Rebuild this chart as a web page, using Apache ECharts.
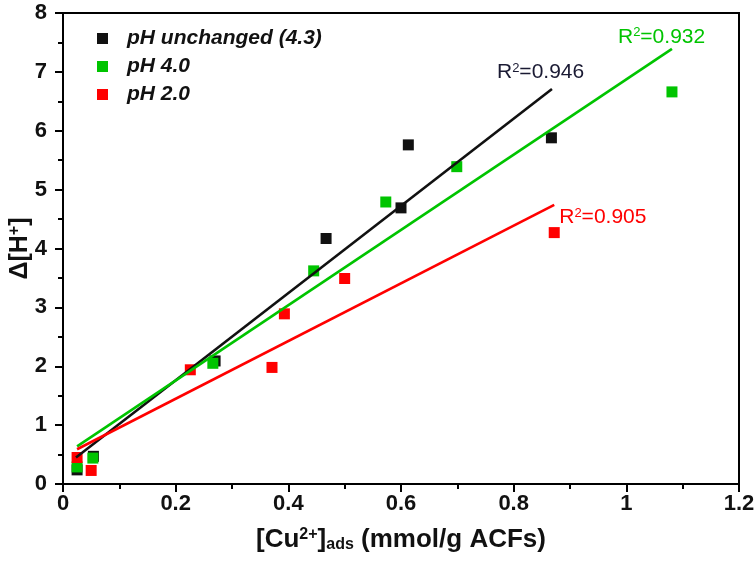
<!DOCTYPE html>
<html>
<head>
<meta charset="utf-8">
<script src="https://cdn.jsdelivr.net/npm/echarts@6/dist/echarts.min.js"></script>
<style>html,body{margin:0;padding:0;background:#fff}#c{width:756px;height:565px}</style>
</head>
<body>
<div id="c"></div>
<script>
// ---- data ----
const seriesNames = ['pH unchanged (4.3)', 'pH 4.0', 'pH 2.0'];
const blackPts = [[0.025,0.24],[0.054,0.47],[0.270,2.09],[0.467,4.17],[0.600,4.69],[0.613,5.76],[0.867,5.88]];
const greenPts = [[0.025,0.29],[0.053,0.44],[0.266,2.05],[0.445,3.62],[0.573,4.79],[0.699,5.39],[1.081,6.66]];
const redPts   = [[0.025,0.45],[0.050,0.23],[0.226,1.94],[0.371,1.98],[0.393,2.89],[0.500,3.49],[0.872,4.27]];
const blackFit = [[0.023,0.45],[0.868,6.71]];
const greenFit = [[0.025,0.64],[1.081,7.39]];
const redFit   = [[0.025,0.59],[0.872,4.74]];
const r2Labels = ['0.946', '0.932', '0.905'];
const xTicks = [0, 0.2, 0.4, 0.6, 0.8, 1, 1.2];
const yTicks = [0, 1, 2, 3, 4, 5, 6, 7, 8];

const colors = ['#111111', '#00c400', '#ff0000'];
const r2Colors = ['#1a1a33', '#00c400', '#ff0000'];
const FONT = '"Liberation Sans", Arial, sans-serif';

function fitSeries(name, pts, color, r2, r2color, offset) {
  return {
    type: 'line', name: name + ' fit', data: pts,
    showSymbol: false, symbol: 'none', silent: true, z: 3,
    lineStyle: {color: color, width: 2.6},
    endLabel: {
      show: true, distance: 0, offset: offset, align: 'left', verticalAlign: 'middle',
      formatter: '{b|R}{s|2}{b|=' + r2 + '}',
      rich: {
        b: {fontFamily: FONT, fontSize: 21, color: r2color},
        s: {fontFamily: FONT, fontSize: 13, color: r2color, verticalAlign: 'top', padding: [0,0,7,0]}
      }
    }
  };
}

const chart = echarts.init(document.getElementById('c'), null, {renderer: 'canvas'});
chart.setOption({
  animation: false,
  backgroundColor: '#fff',
  grid: {left: 63, right: 17, top: 13, bottom: 81, containLabel: false, outerBoundsMode: 'none',
    show: true, borderColor: '#000', borderWidth: 2, backgroundColor: 'transparent'},
  legend: {
    data: seriesNames, orient: 'vertical', left: 92, top: 23, itemGap: 7,
    icon: 'rect', itemWidth: 11, itemHeight: 11,
    itemStyle: {opacity: 1},
    textStyle: {fontFamily: FONT, fontSize: 21, fontWeight: 'bold', fontStyle: 'italic', color: '#111', padding: [0,0,0,14]}
  },
  xAxis: {
    type: 'value', min: 0, max: 1.2, interval: 0.2,
    axisLine: {show: true, lineStyle: {color: '#000', width: 2}},
    axisTick: {show: true, length: 8, lineStyle: {color: '#000', width: 2}},
    minorTick: {show: true, splitNumber: 2, length: 5, lineStyle: {color: '#000', width: 2}},
    splitLine: {show: false},
    axisLabel: {margin: 9, fontFamily: FONT, fontSize: 22, fontWeight: 'bold', color: '#111',
      formatter: v => { const t = xTicks.find(x => Math.abs(x - v) < 1e-9); return t === undefined ? '' : String(t); }},
    name: '{a|[Cu}{s|2+}{a|]}{d|ads}{a| (mmol/g ACFs)}', nameLocation: 'middle', nameGap: 43, nameMoveOverlap: false,
    nameTextStyle: {rich: {
      a: {fontFamily: FONT, fontSize: 26, fontWeight: 'bold', color: '#111'},
      s: {fontFamily: FONT, fontSize: 16, fontWeight: 'bold', color: '#111', verticalAlign: 'top', padding: [0,0,10,0]},
      d: {fontFamily: FONT, fontSize: 16, fontWeight: 'bold', color: '#111', verticalAlign: 'bottom', padding: [10,0,0,0]}
    }}
  },
  yAxis: {
    type: 'value', min: 0, max: 8, interval: 1,
    axisLine: {show: true, lineStyle: {color: '#000', width: 2}},
    axisTick: {show: true, length: 8, lineStyle: {color: '#000', width: 2}},
    minorTick: {show: true, splitNumber: 2, length: 5, lineStyle: {color: '#000', width: 2}},
    splitLine: {show: false},
    axisLabel: {margin: 16, fontFamily: FONT, fontSize: 22, fontWeight: 'bold', color: '#111',
      formatter: v => { const t = yTicks.find(y => Math.abs(y - v) < 1e-9); return t === undefined ? '' : String(t); }},
    name: '{a|Δ[H}{s|+}{a|]}', nameLocation: 'middle', nameGap: 30, nameRotate: 90, nameMoveOverlap: false,
    nameTextStyle: {rich: {
      a: {fontFamily: FONT, fontSize: 25, fontWeight: 'bold', color: '#111'},
      s: {fontFamily: FONT, fontSize: 16, fontWeight: 'bold', color: '#111', verticalAlign: 'top', padding: [0,0,10,0]}
    }}
  },
  series: [
    {type: 'scatter', name: seriesNames[0], data: blackPts, symbol: 'rect', symbolSize: 11, itemStyle: {color: colors[0], opacity: 1}, z: 2},
    {type: 'scatter', name: seriesNames[1], data: greenPts, symbol: 'rect', symbolSize: 11, itemStyle: {color: colors[1], opacity: 1}, z: 2},
    {type: 'scatter', name: seriesNames[2], data: redPts, symbol: 'rect', symbolSize: 11, itemStyle: {color: colors[2], opacity: 1}, z: 2},
    fitSeries('black', blackFit, colors[0], r2Labels[0], r2Colors[0], [-55, -17]),
    fitSeries('green', greenFit, colors[1], r2Labels[1], r2Colors[1], [-54, -12]),
    fitSeries('red', redFit, colors[2], r2Labels[2], r2Colors[2], [5, 12])
  ]
});
</script>
</body>
</html>
